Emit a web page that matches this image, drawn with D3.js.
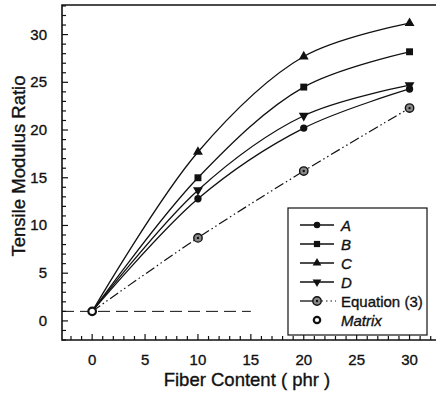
<!DOCTYPE html>
<html><head><meta charset="utf-8">
<script src="https://cdn.jsdelivr.net/npm/d3@7"></script>
<style>body{margin:0;background:#fff}svg{display:block}text{font-family:"Liberation Sans",Arial,sans-serif;fill:#111;stroke:#111;stroke-width:0.35px}</style>
</head><body><svg id="c" width="436" height="400"></svg>
<script>
const fiber = [0, 10, 20, 30];
const seriesA = [1, 12.8, 20.2, 24.3];
const seriesB = [1, 15.0, 24.5, 28.2];
const seriesC = [1, 17.7, 27.7, 31.2];
const seriesD = [1, 13.7, 21.5, 24.7];
const equation3 = [1, 8.7, 15.7, 22.3];
const matrixPoint = [0, 1];
const matrixLine = [[-2.85, 1], [15, 1]];
const xTicks = [0, 5, 10, 15, 20, 25, 30];
const yTicks = [0, 5, 10, 15, 20, 25, 30];
const legendNames = ["A", "B", "C", "D", "Equation (3)", "Matrix"];

const svg = d3.select("#c");
const x = d3.scaleLinear().domain([-2.85, 32.5]).range([62, 436]);
const y = d3.scaleLinear().domain([-2, 33.1]).range([340, 5]);
const ink = "#111";

// frame
svg.append("path").attr("d", `M${x.range()[1]},${y(33.1)}H${x(-2.85)}V${y(-2)}H${x.range()[1]}`)
  .attr("fill", "none").attr("stroke", ink).attr("stroke-width", 1.6);

// minor & major ticks (inside)
const gx = svg.append("g");
d3.range(-2, 33).forEach(v => {
  const maj = v % 5 === 0;
  gx.append("line").attr("x1", x(v)).attr("x2", x(v)).attr("y1", y(-2)).attr("y2", y(-2) - (maj ? 6 : 4))
    .attr("stroke", ink).attr("stroke-width", 1.2);
});
d3.range(-2, 34).forEach(v => {
  const maj = v % 5 === 0;
  gx.append("line").attr("y1", y(v)).attr("y2", y(v)).attr("x1", x(-2.85)).attr("x2", x(-2.85) + (maj ? 6 : 4))
    .attr("stroke", ink).attr("stroke-width", 1.2);
});
svg.append("g").selectAll("text").data(xTicks).join("text")
  .attr("x", d => x(d)).attr("y", 365).attr("text-anchor", "middle").attr("font-size", 15).text(d => d);
svg.append("g").selectAll("text").data(yTicks).join("text")
  .attr("x", 47).attr("y", d => y(d) + 5).attr("text-anchor", "end").attr("font-size", 15).text(d => d);

svg.append("text").attr("x", 247).attr("y", 386).attr("text-anchor", "middle").attr("font-size", 18.5).text("Fiber Content ( phr )");
svg.append("text").attr("transform", `translate(25,166) rotate(-90)`).attr("text-anchor", "middle").attr("font-size", 18.5).text("Tensile Modulus Ratio");

// matrix dashed line
const lin = d3.line().x(d => x(d[0])).y(d => y(d[1]));
svg.append("path").attr("d", lin(matrixLine)).attr("fill", "none").attr("stroke", ink)
  .attr("stroke-width", 1).attr("stroke-dasharray", "12,6");

const curve = d3.line().x(d => x(d[0])).y(d => y(d[1])).curve(d3.curveCatmullRom.alpha(0.5));
const series = [
  {name: "A", vals: seriesA, sym: d3.symbolCircle, size: 42},
  {name: "B", vals: seriesB, sym: d3.symbolSquare, size: 48},
  {name: "C", vals: seriesC, sym: d3.symbolTriangle, size: 42},
  {name: "D", vals: seriesD, sym: "down", size: 42}
];
function drawSym(g, s, cx, cy, k) {
  const sz = s.size * (k || 1);
  if (s.sym === "down") {
    g.append("path").attr("d", d3.symbol(d3.symbolTriangle, sz)()).attr("transform", `translate(${cx},${cy}) rotate(180)`).attr("fill", ink);
  } else {
    g.append("path").attr("d", d3.symbol(s.sym, sz)()).attr("transform", `translate(${cx},${cy})`).attr("fill", ink);
  }
}
series.forEach(s => {
  const pts = fiber.map((f, i) => [f, s.vals[i]]);
  svg.append("path").attr("d", curve(pts)).attr("fill", "none").attr("stroke", ink).attr("stroke-width", 1.3);
  pts.slice(1).forEach(p => drawSym(svg, s, x(p[0]), y(p[1])));
});
// equation 3
const eqPts = fiber.map((f, i) => [f, equation3[i]]);
svg.append("path").attr("d", curve(eqPts)).attr("fill", "none").attr("stroke", ink).attr("stroke-width", 1.2)
  .attr("stroke-dasharray", "10,3,1.5,3,1.5,3");
function eqMark(g, cx, cy) {
  g.append("circle").attr("cx", cx).attr("cy", cy).attr("r", 4.2).attr("fill", "#888").attr("stroke", ink).attr("stroke-width", 1.4);
  g.append("circle").attr("cx", cx).attr("cy", cy).attr("r", 1.2).attr("fill", ink);
}
eqPts.slice(1).forEach(p => eqMark(svg, x(p[0]), y(p[1])));
// matrix marker
svg.append("circle").attr("cx", x(matrixPoint[0])).attr("cy", y(matrixPoint[1])).attr("r", 3.8)
  .attr("fill", "#fff").attr("stroke", ink).attr("stroke-width", 2.2);

// legend
const lg = svg.append("g");
lg.append("rect").attr("x", 288).attr("y", 208).attr("width", 139).attr("height", 127).attr("fill", "#fff").attr("stroke", ink).attr("stroke-width", 1.2);
legendNames.forEach((n, i) => {
  const ly = 225 + i * 19;
  if (i < 4) {
    lg.append("line").attr("x1", 300).attr("x2", 334).attr("y1", ly).attr("y2", ly).attr("stroke", ink).attr("stroke-width", 1.3);
    drawSym(lg, series[i], 317, ly, 0.8);
  } else if (i === 4) {
    lg.append("line").attr("x1", 300).attr("x2", 317).attr("y1", ly).attr("y2", ly).attr("stroke", ink).attr("stroke-width", 1.3);
    lg.append("line").attr("x1", 317).attr("x2", 336).attr("y1", ly).attr("y2", ly).attr("stroke", ink).attr("stroke-width", 1.2).attr("stroke-dasharray", "1.5,3");
    eqMark(lg, 317, ly);
  } else {
    lg.append("circle").attr("cx", 317).attr("cy", ly).attr("r", 3.2).attr("fill", "#fff").attr("stroke", ink).attr("stroke-width", 2.2);
  }
  lg.append("text").attr("x", 341).attr("y", ly + 5.5).attr("font-size", 15)
    .attr("font-style", (i === 4) ? "normal" : "italic").text(n);
});
</script></body></html>
